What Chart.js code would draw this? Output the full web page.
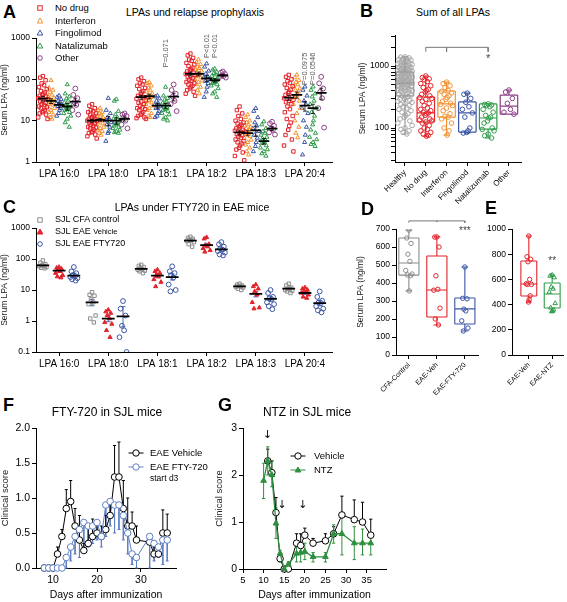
<!DOCTYPE html>
<html><head><meta charset="utf-8">
<script src="https://cdn.jsdelivr.net/npm/chart.js@4.4.1/dist/chart.umd.min.js"></script>
<style>
body{margin:0;background:#fff;font-family:"Liberation Sans",Arial,sans-serif;}
#fig{position:relative;width:567px;height:602px;overflow:hidden;background:#fff;}
canvas{position:absolute;}
.t{position:absolute;white-space:nowrap;color:#000;line-height:1;}
.L{font-weight:bold;font-size:18px;}
.h{font-size:10.5px;transform:translateX(-50%);}
.h2{font-size:12px;transform:translateX(-50%);}
.lg{font-size:9.5px;}
svg{position:absolute;overflow:visible;}
</style></head><body><div id="fig"></div>
<script>
// ---- A: LPAs und relapse prophylaxis (values per LPA species) ----
const lpaLabels = ['LPA 16:0', 'LPA 18:0', 'LPA 18:1', 'LPA 18:2', 'LPA 18:3', 'LPA 20:4'];
const groupsA = ['No drug', 'Interferon', 'Fingolimod', 'Natalizumab', 'Other'];
const noDrugA = [
    [120,110,95,80,72,65,58,52,48,45,42,40,38,35,33,31,29,27,25,24,22,21,20,18,17,16,15,14,12,11],
    [25,23,20,18,17,16,15,14,13,12,12,11,11,10,10,9.5,9,8.5,8,7.5,7,6.8,6.5,6,5.5,5.2,5,4.6,4.2,3.7],
    [110,100,90,80,75,70,62,58,52,48,44,40,37,34,31,29,27,25,23,21,20,19,18,16,15,14,13,12,11.5,11],
    [420,380,330,300,280,250,230,210,190,175,165,155,145,135,128,120,112,105,98,92,86,80,75,70,65,60,55,50,45,40],
    [22,18,15,13,11,10,9,8.5,8,7.5,7,6.5,6,5.7,5.4,5,4.7,4.4,4.1,3.8,3.5,3.2,3,2.8,2.5,2.2,2,1.7,1.4,1.1],
    [128,115,100,90,82,75,68,62,56,50,46,42,38,35,32,30,28,25,22,19,16,13,11,9,7.5,6,4.5,3.5,2.5,1.8]
];
const interferonA = [
    [95,62,55,48,42,38,35,33,30,28,27,25,24,22,20,18,16,14,12,11],
    [20,18,16,15,14,13,12,11,11,10,10,9,8.5,8,7,6.5,6,5.5,5,4.5],
    [85,80,70,62,55,50,45,40,37,34,31,29,27,25,23,20,18,15,13,12],
    [300,260,230,200,185,170,160,150,140,132,125,118,110,100,92,85,75,65,55,45],
    [14,12,10,9,8,7.5,7,6.5,6,5.5,5,4.6,4.2,3.8,3.4,3,2.6,2.2,1.8,1.5],
    [128,110,95,85,75,68,60,55,50,45,40,36,30,25,20,15,10,7,5,3.9]
];
const fingolimodA = [
    [40,37,33,30,28,26,24,22,20,18,15,13],
    [35,18,15,12,11,10,9,8,7,5.5,5,3.2],
    [40,38,34,30,26,24,22,20,17,15,13,12],
    [240,200,160,135,120,110,100,90,80,65,50,37],
    [20,17,12,9,7.5,6.5,5.5,4.5,3.8,3,2.4,1.8],
    [66,55,40,30,25,20,15,10,7,4.5,3,1.5]
];
const natalizumabA = [
    [75,45,38,34,30,27,25,23,21,20,19,18,16,15,13,11,9,7],
    [33,30,17,14,12,11,10,9.5,9,8.5,8,7.5,7,6.5,6,5.5,5.2,5],
    [65,40,35,32,29,27,25,23,21,20,19,18,17,15,14,12,11,10],
    [180,170,150,140,130,120,110,100,95,90,85,80,75,70,60,50,45,37],
    [9.5,8,6.5,5.5,5,4.5,4,3.7,3.4,3.2,3,2.8,2.5,2.2,2,1.8,1.6,1.4],
    [66,55,45,38,30,25,20,16,13,10,8,6,5,4,3.5,3,2.7,2.4]
];
const otherA = [
    [60,42,35,28,24,18,14],
    [15,14,13,12,10,8,6.5],
    [75,55,45,38,30,25,17],
    [155,145,135,125,120,115,110],
    [9.4,8.5,7.5,6.5,6,5.2,4.6],
    [115,80,60,50,35,20,6.8]
];
const meanA = [[34,30,24,22,29],[10,10.5,10,10,11],[37,39,23,23,38],[135,135,105,95,125],[5.2,5,5.8,3.2,6.4],[36,42,23,20,47]];
const semA = [[4,4,3,4,6],[0.8,0.8,2.5,1.8,1.2],[4,5,3,3,8],[14,14,17,9,6],[0.7,0.7,1.6,0.5,0.7],[5,7,6,5,14]];
const yTicksA = [1, 10, 100, 1000];

// ---- B: Sum of all LPAs ----
const groupsB = ['Healthy', 'No drug', 'Interferon', 'Fingolimod', 'Natalizumab', 'Other'];
const healthyB = [1400,1390,1350,1320,1300,1280,1250,1220,1200,1180,1150,1120,1100,1080,1060,1040,1020,1000,990,970,950,940,920,910,900,880,870,860,850,830,820,800,790,780,770,760,740,730,720,710,700,690,680,670,660,650,640,630,620,610,600,590,580,575,570,560,550,545,540,530,520,515,510,500,490,480,470,465,460,450,440,430,420,410,400,395,390,380,370,360,350,340,330,320,310,300,290,280,270,260,250,240,230,220,210,200,190,180,170,160,150,140,130,120,110,100,95,90,85,80];
const noDrugB = [690,650,620,600,560,520,480,450,420,400,380,350,330,310,300,290,270,250,230,210,200,190,180,175,170,160,150,140,135,130,125,120,110,100,95,90,85,80,76,74];
const interferonB = [550,520,480,450,400,390,370,350,330,310,290,270,250,240,230,210,190,170,155,150,140,120,100,90,77];
const fingolimodB = [365,350,300,260,220,200,175,150,100,90,85,83];
const natalizumabB = [245,240,235,230,220,200,180,160,150,145,130,120,100,95,90,80,75,69];
const otherB = [410,380,300,250,200,180,167];
// [min, q1, median, q3, max]
const boxB = [[80,330,530,800,1400],[74,125,175,316,690],[77,150,245,395,550],[83,86,175,263,365],[69,96,145,245,245],[167,167,225,340,410]];
const yTicksB = [30,40,50,60,70,80,90,100,200,300,400,500,600,700,800,900,1000,2000,3000];

// ---- C: LPAs under FTY720 in EAE mice ----
const groupsC = ['SJL CFA control', 'SJL EAE Vehicle', 'SJL EAE FTY720'];
const cfaC = [[90,75,68,62,60,58,55,52,50],[8.5,7,6.5,5,4,3.5,1.5,1.2,0.9],[65,60,55,50,47,45,42,40,35],[520,480,450,420,400,380,350,300,250],[16,15,14,13.5,13,12.5,12,11,10],[16,14,12,11,11,10,9.5,9,8]];
const vehC = [[55,52,48,45,40,35,30,27,25],[2.3,2,1.8,1.5,1.2,0.9,0.8,0.5,0.3],[45,40,35,30,27,22,18,13],[500,450,300,280,250,220,190,170],[15,13,11,9,7,4,2.7,2.5],[12,11,10,9,8.5,8,7,6,5.5]];
const ftyC = [[55,40,35,30,28,26,24,22,20],[4.4,2.5,1.5,0.7,0.5,0.3,0.1],[58,40,35,30,25,15,10,9],[350,300,250,220,200,180,160,140,130],[10,8,6,5.5,5,4,3.5,3,2.4],[9,6,4.5,4,3.8,3,2.5,2.2,1.9]];
const meanC = [[62,42,29],[4,1.2,1.4],[48,29,26],[390,280,205],[13,7.5,5.2],[11,8,3.8]];
const errLoC = [[57,37,25],[3.1,0.95,0.65],[45,25,21],[360,240,180],[12.3,6,4.4],[10.2,7.2,3.1]];
const errHiC = [[67,47,35],[5,1.5,2.9],[51,34,33],[420,320,230],[13.7,9,6],[11.8,8.8,4.6]];
const yTicksC = [0.1, 1, 10, 100, 1000];

// ---- D and E: box plots ----
const catsD = ['CFA-Control', 'EAE-Veh', 'EAE-FTY-720'];
const cfaD = [694,650,620,560,520,470,450,445,440,356];
const vehD = [656,655,600,440,365,360,260,200,167];
const ftyD = [489,315,312,255,245,190,150,133];
const boxD = [[356,444,511,650,694],[167,211,361,550,656],[133,172,256,317,489]];
const catsE = ['EAE-Veh', 'EAE-NTZ'];
const vehE = [944,780,760,740,600,565,560,560,470,440,420];
const ntzE = [635,628,615,540,525,500,410,375,360,350,345];
const boxE = [[420,468,563,746,944],[341,373,484,571,635]];

// ---- F: FTY-720 in SJL mice ----
const daysF = [8,9,10,11,12,13,14,15,16,17,18,19,20,21,22,23,24,25,26,27,28,29,32,33,34,35,36];
const vehF = [0,0,0,0.2,0.45,0.85,0.95,0.6,0.4,0.25,0.35,0.45,0.5,0.45,0.55,0.75,1.3,1.3,0.85,0.6,0.6,0.4,0.37,0.2,0.2,0.5,0.5];
const vehHiF = [null,null,null,0.3,0.55,1.12,1.25,0.85,0.75,0.35,0.6,0.7,0.65,0.6,0.75,0.95,1.75,1.8,1.25,1.0,0.8,0.6,0.45,0.3,0.3,0.83,0.77];
const ftyF = [0,0,0,0,0,0.15,0.3,0.45,0.55,0.65,0.6,0.6,0.65,0.45,0.9,0.95,0.9,0.9,0.75,0.5,0.2,0.15,0.45,0.35,0.3,0.4,0.4];
const ftyLoF = [null,null,null,null,null,0,0.1,0.2,0.15,0.25,0.3,0.35,0.4,0.3,0.45,0.6,0.5,0.55,0.4,0.2,0.05,0,0,0.1,0.15,0.05,0.1];

// ---- G: NTZ in SJL mice ----
const daysG = [10,11,12,13,14,15,16,18,19,20,22,25,27,29,32,34,36];
const vehG = [null,2.3,2.05,1.2,0.22,0,0,0.55,0.5,0.72,0.55,0.6,0.75,1.15,1.05,1.0,0.72];
const vehHiG = [null,2.55,2.3,1.52,0.3,null,null,0.75,0.75,0.87,0.65,0.75,0.9,1.55,1.47,1.42,1.06];
const ntzG = [1.88,2.3,2.0,0.97,0.33,0,0.1,0.33,0.35,0.37,0.26,0.26,0.75,0.75,0.55,0.55,0.55];
const ntzLoG = [1.5,2.0,1.75,0.65,0.15,null,0,0.15,0.15,0.2,0.15,0.15,0.55,0.3,0.2,0.3,0.3];
const ntzHiG = [2.25,2.6,2.3,1.3,0.4,null,0.15,0.55,0.5,0.55,0.35,0.35,0.94,1.15,0.9,0.85,0.75];
const arrowDaysG = [11, 14.5, 19.5];
const arrowYG = [2.85, 1.35, 1.35];

// ---- colours ----
const RED = '#e3232a', ORANGE = '#f39230', BLUE = '#3b55a5', GREEN = '#2f9b4a', PURPLE = '#8d3f86', GREY = '#999999';
const LBLUE = '#5f7fc4', DGREEN = '#2e8f3f';

Chart.defaults.font.family = '"Liberation Sans", Arial, sans-serif';
Chart.defaults.color = '#000';

const fig = document.getElementById('fig');

function mkCanvas(l, t, w, h) {
    const c = document.createElement('canvas');
    c.width = w; c.height = h;
    c.style.left = l + 'px'; c.style.top = t + 'px';
    c.style.width = w + 'px'; c.style.height = h + 'px';
    fig.appendChild(c);
    return c;
}
function txt(s, l, t, cls, style) {
    const d = document.createElement('div');
    d.className = 't ' + (cls || '');
    d.textContent = s;
    d.style.left = l + 'px'; d.style.top = t + 'px';
    if (style) Object.assign(d.style, style);
    fig.appendChild(d);
    return d;
}
function svgMark(cx, cy, shape, color, fill, lineLen) {
    const s = document.createElementNS('http://www.w3.org/2000/svg', 'svg');
    s.setAttribute('width', 20); s.setAttribute('height', 12);
    s.style.left = (cx - 10) + 'px'; s.style.top = (cy - 6) + 'px';
    let h = '';
    if (lineLen) h += `<line x1="${10 - lineLen}" y1="6" x2="${10 + lineLen}" y2="6" stroke="${color}" stroke-width="1"/>`;
    const f = fill || 'none';
    if (shape === 'rect') h += `<rect x="7.8" y="3.8" width="4.4" height="4.4" fill="${f}" stroke="${color}" stroke-width="1"/>`;
    if (shape === 'triangle') h += `<polygon points="10,3 12.8,8 7.2,8" fill="${f}" stroke="${color}" stroke-width="1"/>`;
    if (shape === 'circle') h += `<circle cx="10" cy="6" r="${lineLen ? 3.2 : 2.3}" fill="${f}" stroke="${color}" stroke-width="1"/>`;
    s.innerHTML = h;
    fig.appendChild(s);
}

// text drawn at data coordinates through the chart scales
const notesPlugin = {
    id: 'notes',
    afterDatasetsDraw(chart, args, opts) {
        const ctx = chart.ctx, x = chart.scales.x, y = chart.scales.y;
        (opts.items || []).forEach(n => {
            ctx.save();
            ctx.font = n.font || '10px "Liberation Sans", Arial';
            ctx.fillStyle = n.color || '#000';
            ctx.textAlign = 'center';
            ctx.textBaseline = 'middle';
            ctx.translate(x.getPixelForValue(n.x), y.getPixelForValue(n.y));
            if (n.rot) ctx.rotate(n.rot);
            ctx.fillText(n.text, 0, 0);
            ctx.restore();
        });
    }
};

const JIT = [0, -0.55, 0.55, -0.25, 0.25, -0.8, 0.8, -0.4, 0.4, 0.1, -0.1, -0.65, 0.65, -0.95, 0.95];
function swarm(vals, cx, w) {
    return vals.map((v, i) => ({ x: cx + JIT[i % JIT.length] * w, y: v }));
}
function segs(list) {
    const d = [];
    list.forEach(s => { d.push({ x: s[0], y: s[1] }, { x: s[2], y: s[3] }, { x: s[2], y: null }); });
    return d;
}
function lineSet(data, color, width, clip) {
    const ds = { data, showLine: true, borderColor: color, borderWidth: width || 1, pointRadius: 0, pointHoverRadius: 0, spanGaps: false, fill: false };
    if (clip === false) ds.clip = false;
    return ds;
}
function pointSet(data, color, style, r, filled) {
    return { data, showLine: false, pointStyle: style, pointRadius: r, pointHoverRadius: r, borderColor: color,
        pointBorderColor: color, pointBackgroundColor: filled ? color : 'rgba(0,0,0,0)', pointBorderWidth: 1 };
}
function boxSegs(cx, b, w, c) {
    const [mn, q1, md, q3, mx] = b;
    return [
        [cx - w, q1, cx - w, q3], [cx - w, q3, cx + w, q3], [cx + w, q3, cx + w, q1], [cx + w, q1, cx - w, q1],
        [cx - w, md, cx + w, md],
        [cx, q3, cx, mx], [cx, q1, cx, mn],
        [cx - c, mx, cx + c, mx], [cx - c, mn, cx + c, mn]
    ];
}

function axis(o) {
    return {
        type: o.type || 'linear', min: o.min, max: o.max,
        afterBuildTicks: s => { s.ticks = o.ticks.map(v => ({ value: v })); },
        afterFit: s => { if (o.w !== undefined) s.width = o.w; if (o.h !== undefined) s.height = o.h; },
        border: { display: true, color: '#000', width: 1 },
        grid: { display: true, drawOnChartArea: false, color: '#000', tickLength: 4, tickWidth: 1 },
        ticks: { color: '#000', font: { size: o.fs || 9 }, padding: 2, autoSkip: false,
            maxRotation: o.rot || 0, minRotation: o.rot || 0, callback: o.cb || (v => String(v)) },
        title: { display: !!o.title, text: o.title || '', color: o.tc || '#222', font: { size: o.tfs || 8.5 }, padding: { top: 0, bottom: 1 } }
    };
}
function options(x, y, pad, notes) {
    return {
        responsive: false, animation: false, devicePixelRatio: 1,
        layout: { padding: pad },
        plugins: { legend: { display: false }, tooltip: { enabled: false }, notes: { items: notes || [] } },
        scales: { x, y }
    };
}
function chart(canvas, datasets, opts) {
    return new Chart(canvas.getContext('2d'), { type: 'scatter', data: { datasets }, options: opts, plugins: [notesPlugin] });
}

// ======== Panel A ========
(function () {
    const offA = [-0.33, -0.165, 0, 0.165, 0.33];
    const series = [noDrugA, interferonA, fingolimodA, natalizumabA, otherA];
    const cols = [RED, ORANGE, BLUE, GREEN, PURPLE];
    const shapes = ['rect', 'triangle', 'triangle', 'triangle', 'circle'];
    const meanSegs = [], errSegs = [];
    meanA.forEach((row, k) => row.forEach((m, g) => {
        const cx = k + 1 + offA[g], s = semA[k][g];
        meanSegs.push([cx - 0.11, m, cx + 0.11, m]);
        errSegs.push([cx, m - s, cx, m + s], [cx - 0.04, m - s, cx + 0.04, m - s], [cx - 0.04, m + s, cx + 0.04, m + s]);
    }));
    const ds = [lineSet(segs(meanSegs), '#000', 1.8), lineSet(segs(errSegs), '#000', 0.8)];
    series.forEach((ser, g) => {
        const pts = [];
        ser.forEach((vals, k) => pts.push(...swarm(vals, k + 1 + offA[g], g === 0 ? 0.1 : 0.075)));
        ds.push(pointSet(pts, cols[g], shapes[g], 2.4, false));
    });
    const pf = '7.5px "Liberation Sans", Arial';
    const notes = [
        { x: 3.165, y: 430, text: 'P=0.071', rot: -Math.PI / 2, font: pf, color: '#555' },
        { x: 4.0, y: 640, text: 'P<0.01', rot: -Math.PI / 2, font: pf, color: '#555' },
        { x: 4.165, y: 640, text: 'P<0.01', rot: -Math.PI / 2, font: pf, color: '#555' },
        { x: 6.0, y: 180, text: 'P=0.0975', rot: -Math.PI / 2, font: pf, color: '#555' },
        { x: 6.165, y: 180, text: 'P=0.0546', rot: -Math.PI / 2, font: pf, color: '#555' }
    ];
    const x = axis({ min: 0.53, max: 6.55, ticks: [1, 2, 3, 4, 5, 6], h: 24, fs: 10, cb: v => lpaLabels[Math.round(v) - 1] });
    const y = axis({ type: 'logarithmic', min: 1, max: 1000, ticks: yTicksA, w: 36, fs: 8.5, title: 'Serum LPA (ng/ml)' });
    chart(mkCanvas(0, 26, 338, 160), ds, options(x, y, { top: 12, right: 6, left: 0, bottom: 0 }, notes));
    txt('A', 3, 3, 'L');
    txt('LPAs und relapse prophylaxis', 195, 7, 'h');
    const ly = [8, 20.5, 33, 45.5, 58];
    groupsA.forEach((g, i) => {
        svgMark(40, ly[i], shapes[i], cols[i], null);
        txt(g, 55, ly[i] - 5, 'lg');
    });
})();

// ======== Panel B ========
(function () {
    const series = [healthyB, noDrugB, interferonB, fingolimodB, natalizumabB, otherB];
    const cols = [GREY, RED, ORANGE, BLUE, GREEN, PURPLE];
    const ds = [lineSet(segs([[2, 1700, 2, 2000], [2, 2000, 5, 2000], [3, 2000, 3, 1700], [5, 2000, 5, 1700]]), '#777', 1)];
    boxB.forEach((b, i) => ds.push(lineSet(segs(boxSegs(i + 1, b, 0.42, 0.15)), cols[i], 1.2)));
    series.forEach((vals, i) => ds.push(pointSet(swarm(vals, i + 1, i === 0 ? 0.36 : 0.3), i === 0 ? '#a8a8a8' : cols[i], 'circle', 2.3, false)));
    const x = axis({ min: 0.52, max: 6.58, ticks: [1, 2, 3, 4, 5, 6], h: 43, fs: 8, rot: 45, cb: v => groupsB[Math.round(v) - 1] });
    const y = axis({ type: 'logarithmic', min: 28.3, max: 3162, ticks: yTicksB, w: 37, fs: 8.5, title: 'Serum LPA (ng/ml)',
        cb: v => (v === 100 || v === 1000) ? String(v) : '' });
    const notes = [{ x: 5, y: 1300, text: '*', font: '11px "Liberation Sans", Arial', color: '#444' }];
    chart(mkCanvas(358, 25, 170, 185), ds, options(x, y, { top: 10, right: 7, left: 0, bottom: 5 }, notes));
    txt('B', 360, 2, 'L');
    txt('Sum of all LPAs', 453, 7, 'h');
})();

// ======== Panel C ========
(function () {
    const offC = [-0.33, 0, 0.3];
    const series = [cfaC, vehC, ftyC];
    const cols = ['#8c8c8c', RED, BLUE];
    const shapes = ['rect', 'triangle', 'circle'];
    const meanSegs = [], errSegs = [];
    meanC.forEach((row, k) => row.forEach((m, g) => {
        const cx = k + 1 + offC[g], lo = errLoC[k][g], hi = errHiC[k][g];
        meanSegs.push([cx - 0.13, m, cx + 0.13, m]);
        errSegs.push([cx, lo, cx, hi], [cx - 0.05, lo, cx + 0.05, lo], [cx - 0.05, hi, cx + 0.05, hi]);
    }));
    const ds = [lineSet(segs(meanSegs), '#000', 1.8)];
    series.forEach((ser, g) => {
        const pts = [];
        ser.forEach((vals, k) => pts.push(...swarm(vals, k + 1 + offC[g], 0.09)));
        ds.push(pointSet(pts, cols[g], shapes[g], 2.4, g === 1));
    });
    ds.push(lineSet(segs(errSegs), BLUE, 0.9));
    const x = axis({ min: 0.53, max: 6.55, ticks: [1, 2, 3, 4, 5, 6], h: 24, fs: 10, cb: v => lpaLabels[Math.round(v) - 1] });
    const y = axis({ type: 'logarithmic', min: 0.1, max: 1000, ticks: yTicksC, w: 36, fs: 8.5, title: 'Serum LPA (ng/ml)' });
    chart(mkCanvas(0, 216, 338, 160), ds, options(x, y, { top: 12, right: 6, left: 0, bottom: 0 }));
    txt('C', 3, 198, 'L');
    txt('LPAs under FTY720 in EAE mice', 192, 202, 'h');
    const ly = [220, 232, 244];
    svgMark(40, ly[0], 'rect', cols[0], null);
    svgMark(40, ly[1], 'triangle', RED, RED);
    svgMark(40, ly[2], 'circle', BLUE, null);
    txt(groupsC[0], 55, ly[0] - 5, 'lg', { fontSize: '9px' });
    const v = txt('SJL EAE ', 55, ly[1] - 5, 'lg', { fontSize: '9px' });
    const sm = document.createElement('span'); sm.textContent = 'Vehicle'; sm.style.fontSize = '7.5px'; v.appendChild(sm);
    txt(groupsC[2], 55, ly[2] - 5, 'lg', { fontSize: '9px' });
})();

// ======== Panel D ========
(function () {
    const series = [cfaD, vehD, ftyD];
    const cols = ['#8c8c8c', RED, BLUE];
    const ds = [lineSet(segs([[1, 735, 1, 745], [1, 745, 3, 745], [3, 745, 3, 735], [2, 745, 2, 740]]), '#777', 1, false)];
    boxD.forEach((b, i) => ds.push(lineSet(segs(boxSegs(i + 1, b, 0.36, 0.12)), cols[i], 1.1)));
    series.forEach((vals, i) => ds.push(pointSet(swarm(vals, i + 1, 0.14), cols[i], 'circle', 2.2, false)));
    const x = axis({ min: 0.54, max: 3.47, ticks: [1, 2, 3], h: 42, fs: 7, rot: 45, cb: v => catsD[Math.round(v) - 1] });
    const y = axis({ min: 0, max: 700, ticks: [0, 100, 200, 300, 400, 500, 600, 700], w: 40, fs: 8.5, title: 'Serum LPA (ng/ml)' });
    const notes = [{ x: 3, y: 690, text: '***', font: '10px "Liberation Sans", Arial', color: '#444' }];
    chart(mkCanvas(356, 217, 128, 180), ds, options(x, y, { top: 12, right: 6, left: 0, bottom: 0 }, notes));
    txt('D', 361, 200, 'L');
})();

// ======== Panel E ========
(function () {
    const ds = [
        lineSet(segs(boxSegs(1, boxE[0], 0.34, 0.12)), RED, 1.1),
        lineSet(segs(boxSegs(2, boxE[1], 0.34, 0.12)), GREEN, 1.1),
        pointSet(swarm(vehE, 1, 0.14), RED, 'circle', 2.2, false),
        pointSet(swarm(ntzE, 2, 0.16), GREEN, 'triangle', 2.6, false)
    ];
    const x = axis({ min: 0.28, max: 2.48, ticks: [1, 2], h: 42, fs: 7, rot: 45, cb: v => catsE[Math.round(v) - 1] });
    const y = axis({ min: 0, max: 1000, ticks: [0, 200, 400, 600, 800, 1000], w: 28, fs: 8.5 });
    const notes = [{ x: 2, y: 745, text: '**', font: '10px "Liberation Sans", Arial', color: '#444' }];
    chart(mkCanvas(484, 217, 83, 180), ds, options(x, y, { top: 12, right: 0, left: 0, bottom: 0 }, notes));
    txt('E', 485, 199, 'L');
})();

// ======== Panel F ========
(function () {
    const vehErr = [], ftyErr = [];
    daysF.forEach((d, i) => {
        if (vehHiF[i] !== null) vehErr.push([d, vehF[i], d, vehHiF[i]], [d - 0.35, vehHiF[i], d + 0.35, vehHiF[i]]);
        if (ftyLoF[i] !== null) ftyErr.push([d, ftyF[i], d, ftyLoF[i]], [d - 0.35, ftyLoF[i], d + 0.35, ftyLoF[i]]);
    });
    const lineF = (vals, col) => ({ data: daysF.map((d, i) => ({ x: d, y: vals[i] })), showLine: true, borderColor: col, borderWidth: 1,
        pointStyle: 'circle', pointRadius: 3.3, pointBorderColor: col, pointBackgroundColor: '#fff', pointBorderWidth: 1, clip: false });
    const ds = [lineF(ftyF, LBLUE), lineF(vehF, '#000'), lineSet(segs(vehErr), '#000', 1), lineSet(segs(ftyErr), LBLUE, 1, false)];
    const x = axis({ min: 6.1, max: 38, ticks: [10, 20, 30], h: 34, fs: 10.5, title: 'Days after immunization', tfs: 10.5, tc: '#000' });
    const y = axis({ min: 0, max: 2, ticks: [0, 0.5, 1, 1.5, 2], w: 36, fs: 10.5, title: 'Clinical score', tfs: 9.5, cb: v => v.toFixed(1) });
    chart(mkCanvas(0, 416, 182, 186), ds, options(x, y, { top: 12, right: 6, left: 0, bottom: 0 }));
    txt('F', 3, 396, 'L');
    txt('FTY-720 in SJL mice', 107, 406, 'h2');
    svgMark(135.5, 453, 'circle', '#000', '#fff', 7.5);
    svgMark(135.5, 467, 'circle', LBLUE, '#fff', 7.5);
    txt('EAE Vehicle', 150, 448, 'lg');
    txt('EAE FTY-720', 150, 462, 'lg');
    txt('start d3', 150, 474, 'lg', { fontSize: '8.5px' });
})();

// ======== Panel G ========
(function () {
    const vehErr = [], ntzErr = [];
    daysG.forEach((d, i) => {
        if (vehHiG[i] !== null) vehErr.push([d, vehG[i], d, vehHiG[i]], [d - 0.4, vehHiG[i], d + 0.4, vehHiG[i]]);
        if (ntzLoG[i] !== null) ntzErr.push([d, ntzLoG[i], d, ntzHiG[i]], [d - 0.4, ntzLoG[i], d + 0.4, ntzLoG[i]], [d - 0.4, ntzHiG[i], d + 0.4, ntzHiG[i]]);
    });
    const vehLine = { data: daysG.map((d, i) => ({ x: d, y: vehG[i] })), showLine: true, borderColor: '#000', borderWidth: 1,
        pointStyle: 'circle', pointRadius: 3.3, pointBorderColor: '#000', pointBackgroundColor: '#fff', pointBorderWidth: 1, clip: false };
    const ntzLine = { data: daysG.map((d, i) => ({ x: d, y: ntzG[i] })), showLine: true, borderColor: DGREEN, borderWidth: 1.3,
        pointStyle: 'triangle', pointRadius: 3.3, pointBorderColor: DGREEN, pointBackgroundColor: DGREEN, pointBorderWidth: 1, clip: false };
    const ds = [ntzLine, vehLine, lineSet(segs(ntzErr), DGREEN, 1, false), lineSet(segs(vehErr), '#000', 1, false)];
    const notes = arrowDaysG.map((d, i) => ({ x: d, y: arrowYG[i], text: '↓', font: '11px "DejaVu Sans", sans-serif' }));
    const x = axis({ min: 5, max: 39.7, ticks: [5, 10, 15, 20, 25, 30, 35], h: 33, fs: 9.5, title: 'Days after immunization', tfs: 10.5, tc: '#000' });
    const y = axis({ min: 0, max: 3, ticks: [0, 1, 2, 3], w: 29, fs: 10.5, title: 'Clinical score', tfs: 9.5 });
    chart(mkCanvas(214, 416, 178, 186), ds, options(x, y, { top: 12, right: 6, left: 0, bottom: 0 }, notes));
    txt('G', 218, 396, 'L');
    txt('NTZ in SJL mice', 307, 406, 'h2');
    svgMark(297.5, 456, 'circle', '#000', '#fff', 7.5);
    svgMark(297.5, 470, 'triangle', DGREEN, DGREEN, 7.5);
    txt('Vehicle', 314, 451, 'lg');
    txt('NTZ', 314, 465, 'lg');
})();
</script></body></html>
